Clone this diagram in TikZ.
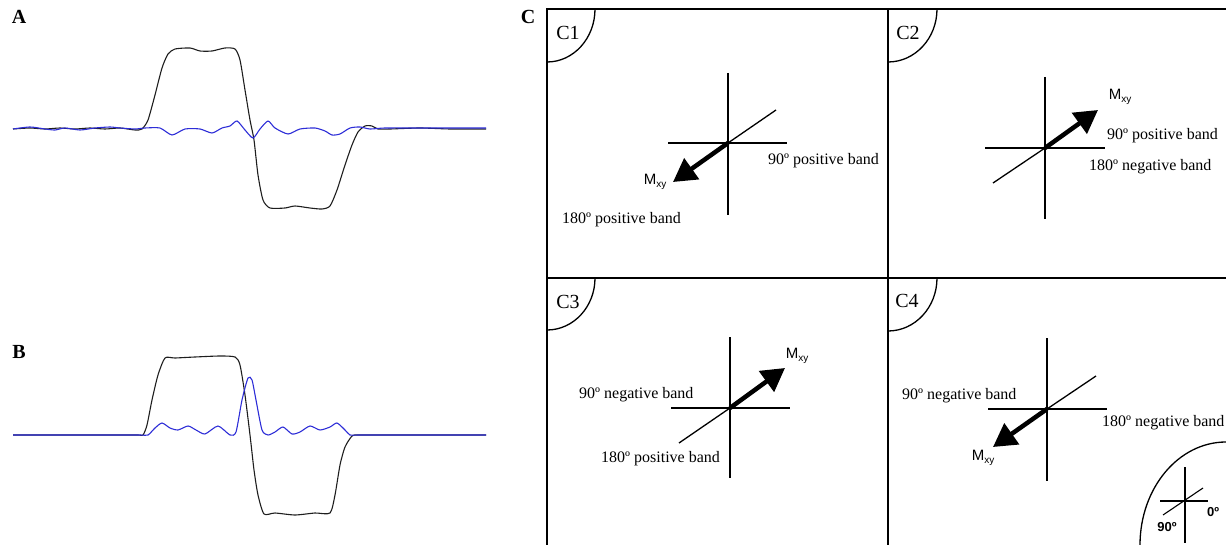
\documentclass[tikz,border=0pt]{standalone}
\usepackage{fontspec}
\setmainfont{Liberation Serif}
\newfontfamily\sansf{Liberation Sans}
\usetikzlibrary{arrows.meta}
\definecolor{wblue}{RGB}{45,45,215}
\definecolor{wblack}{RGB}{30,30,30}
\newcommand{\mxy}{{\sansf\fontsize{15}{15}\selectfont M\raisebox{-0.45ex}{\fontsize{10}{10}\selectfont xy}}}
\tikzset{
  frame/.style={line width=1.8pt, black},
  axisline/.style={line width=1.3pt, black},
  bigarrow/.style={line width=4.5pt, black, -{Triangle[length=23pt,width=25pt]}},
  band/.style={font=\fontsize{16}{16}\selectfont, inner sep=0pt},
  clabel/.style={font=\fontsize{20}{20}\selectfont, inner sep=0pt},
  plabel/.style={font=\fontsize{20}{20}\selectfont\bfseries, inner sep=0pt},
  mlabel/.style={inner sep=0pt},
  leg/.style={font=\sansf\bfseries\fontsize{13}{13}\selectfont, inner sep=0pt},
  wave/.style={line width=1.1pt, smooth, tension=0.4}
}
\begin{document}
\begin{tikzpicture}[x=1pt,y=-1pt]
\useasboundingbox (0,0) rectangle (1226,545);
% panel labels
\node[plabel] (A) at (19,17) {A};
\node[plabel] (B) at (19,352) {B};
\node[plabel] (C) at (528,17) {C};
% waveforms A
\draw[wave, wblack] plot coordinates {(13,129)(30,128)(45,129)(60,128)(75,129)(90,128)(105,129)(120,128)(135,130)(142,129)(148,120)(155,95)(162,68)(168,54)(175,49)(190,48)(200,51)(212,51)(225,48)(235,49)(240,60)(245,90)(250,120)(254,140)(258,175)(263,200)(270,208)(285,208)(295,206)(310,208)(322,209)(330,206)(337,190)(345,165)(352,145)(358,132)(365,126)(372,126)(378,129)(390,129)(420,128)(450,129)(486,129)};
\draw[wave, wblue] plot coordinates {(13,129)(30,127)(45,129)(55,130)(65,128)(80,130)(95,128)(110,127)(120,128)(135,129)(145,128)(160,128)(172,135)(185,129)(200,129)(212,133)(222,128)(230,126)(237,121)(245,130)(253,138)(260,129)(268,121)(275,128)(288,134)(300,129)(315,128)(325,131)(332,135)(340,134)(350,128)(360,127)(370,129)(385,128)(420,128)(450,128)(486,128)};
% waveforms B
\draw[wave, wblack] plot coordinates {(13,435)(60,435)(110,435)(138,435)(143,435)(147,425)(152,400)(158,375)(165,358)(175,358)(195,357)(220,356)(235,357)(240,365)(245,395)(250,435)(254,470)(258,495)(264,514)(275,513)(295,515)(315,513)(330,513)(335,495)(340,465)(345,447)(352,436)(358,435)(380,435)(430,435)(486,435)};
\draw[wave, wblue] plot coordinates {(13,435)(60,435)(110,435)(140,435)(148,435)(155,428)(162,423)(170,428)(178,430)(188,426)(196,430)(205,434)(218,426)(230,435)(236,432)(242,400)(248,378)(252,380)(256,400)(262,430)(268,435)(275,432)(283,427)(292,434)(300,432)(310,426)(320,430)(330,427)(337,423)(345,430)(350,435)(358,435)(380,435)(430,435)(486,435)};
% frame
\draw[frame] (547,545) -- (547,9) -- (1226,9);
\draw[frame] (888,9) -- (888,545);
\draw[frame] (547,278) -- (1226,278);
% corner arcs
\draw[axisline] (595,9) arc[start angle=0,end angle=90,x radius=48,y radius=53];
\draw[axisline] (937,9) arc[start angle=0,end angle=90,x radius=49,y radius=53];
\draw[axisline] (595,278) arc[start angle=0,end angle=90,x radius=48,y radius=52];
\draw[axisline] (937,278) arc[start angle=0,end angle=90,x radius=49,y radius=53];
\node[clabel] (C1) at (568,33) {C1};
\node[clabel] (C2) at (908,33) {C2};
\node[clabel] (C3) at (568,302) {C3};
\node[clabel] (C4) at (907,301) {C4};
% C1
\coordinate (c1) at (728,143);
\draw[axisline] (728,73) -- (728,215);
\draw[axisline] (668,143) -- (787,143);
\coordinate (c1d) at (776,110);
\coordinate (c1t) at (673,182);
\draw[axisline] (c1) -- (c1d);
\draw[bigarrow] (c1) -- (c1t);
\node[mlabel] (m1) at (655,182) {\mxy};
\node[band, anchor=west] (c1a) at (768,161) {90º positive band};
\node[band, anchor=west] (c1b) at (562,220) {180º positive band};
% C2
\coordinate (c2) at (1045,148);
\draw[axisline] (1045,77) -- (1045,219);
\draw[axisline] (985,148) -- (1105,148);
\coordinate (c2d) at (993,183);
\coordinate (c2t) at (1098,110);
\draw[axisline] (c2) -- (c2d);
\draw[bigarrow] (c2) -- (c2t);
\node[mlabel] (m2) at (1120,97) {\mxy};
\node[band, anchor=west] (c2a) at (1107,136) {90º positive band};
\node[band, anchor=west] (c2b) at (1089,167) {180º negative band};
% C3
\coordinate (c3) at (730,408);
\draw[axisline] (730,337) -- (730,478);
\draw[axisline] (671,408) -- (790,408);
\coordinate (c3d) at (679,443);
\coordinate (c3t) at (785,368);
\draw[axisline] (c3) -- (c3d);
\draw[bigarrow] (c3) -- (c3t);
\node[mlabel] (m3) at (797,356) {\mxy};
\node[band, anchor=west] (c3a) at (579,395) {90º negative band};
\node[band, anchor=west] (c3b) at (601,459) {180º positive band};
% C4
\coordinate (c4) at (1047,409);
\draw[axisline] (1047,338) -- (1047,481);
\draw[axisline] (988,409) -- (1107,409);
\coordinate (c4d) at (1096,376);
\coordinate (c4t) at (993,447);
\draw[axisline] (c4) -- (c4d);
\draw[bigarrow] (c4) -- (c4t);
\node[mlabel] (m4) at (983,458) {\mxy};
\node[band, anchor=west] (c4a) at (902,396) {90º negative band};
\node[band, anchor=west] (c4b) at (1102,423) {180º negative band};
% legend
\draw[axisline] (1140,545) arc[start angle=180,end angle=270,x radius=86,y radius=103];
\draw[line width=1.1pt] (1185,467) -- (1185,543);
\draw[line width=1.1pt] (1160,501) -- (1208,501);
\draw[line width=1.1pt] (1163,515) -- (1203,488);
\node[leg] (l0) at (1213,512) {0º};
\node[leg] (l90) at (1167,527) {90º};
\end{tikzpicture}
\end{document}
